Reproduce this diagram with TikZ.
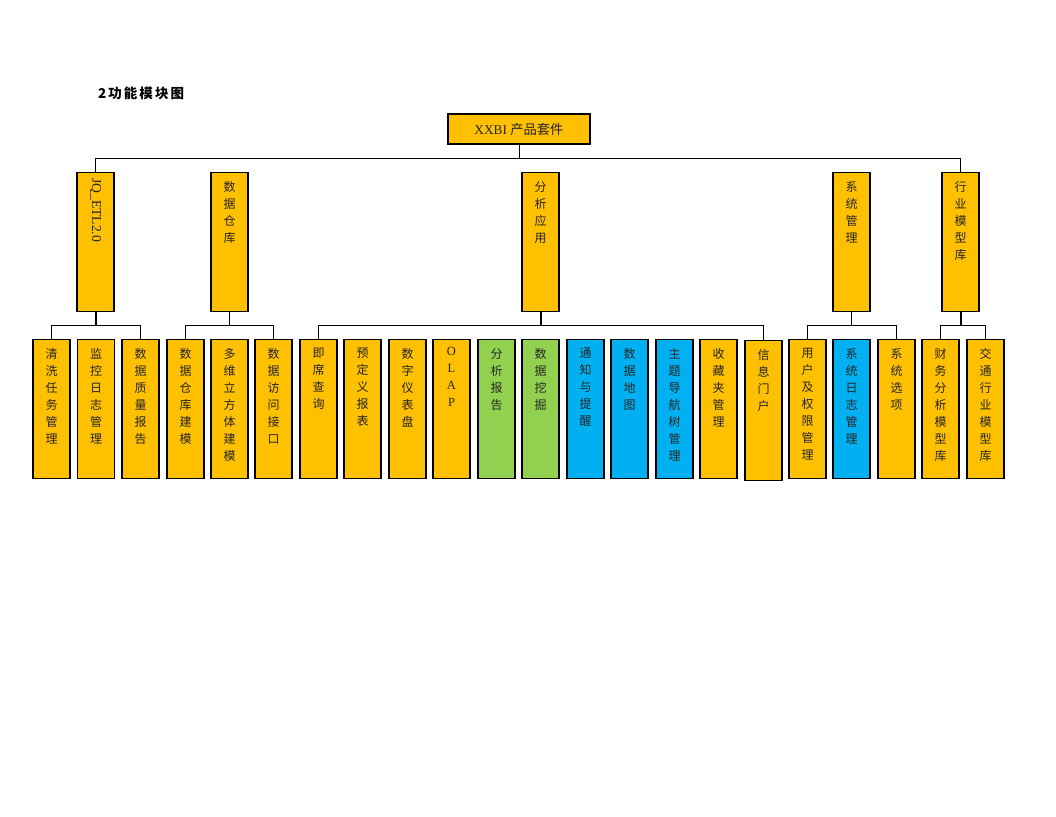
\documentclass[tikz,border=0pt]{standalone}
\usepackage{fontspec}
\setmainfont{Liberation Serif}
\newfontfamily\cjk{Noto Sans CJK SC}
\definecolor{org}{HTML}{FFC000}
\definecolor{grn}{HTML}{92D050}
\definecolor{blu}{HTML}{00B0F0}
\begin{document}
\begin{tikzpicture}[x=1pt,y=-1pt,
 box/.style={draw=black, line width=1.1pt, minimum width=37pt, minimum height=139pt, inner sep=0pt, anchor=north, fill=org},
 vtxt/.style={anchor=north, align=center, inner sep=0pt, yshift=-9pt, font=\cjk\fontsize{12}{17}\selectfont, text=black!85},
 ltxt/.style={anchor=north, align=center, inner sep=0pt, yshift=-8pt, font=\fontsize{12.5}{17}\selectfont, text=black!85},
 conn/.style={line width=0.9pt},
 tconn/.style={line width=2pt}]
\fill[white] (0,0) rectangle (1056,816);
\useasboundingbox (0,0) rectangle (1056,816);

\node[anchor=west, inner sep=0pt, font=\cjk\bfseries\addfontfeatures{LetterSpace=15}\fontsize{13.5}{13.5}\selectfont] (title) at (98,93) {2功能模块图};

\node[draw=black, line width=1.1pt, fill=org, minimum width=142pt, minimum height=30pt, inner sep=0pt, font=\fontsize{13.3}{13.3}\selectfont, text=black!85] (top) at (519,129) {XXBI {\cjk 产品套件}};

% level 1
\node[box] (jq) at (95.5,172) {};
\node[anchor=west, rotate=-90, inner sep=0pt, xshift=6pt, font=\fontsize{13.6}{13.6}\selectfont, text=black!85] (jqt) at (jq.north) {JQ\_ETL2.0};
\node[box] (sjck) at (229.5,172) {};
\node[vtxt] (sjckt) at (sjck.north) {数\\据\\仓\\库};
\node[box] (fxyy) at (540.5,172) {};
\node[vtxt] (fxyyt) at (fxyy.north) {分\\析\\应\\用};
\node[box] (xtgl) at (851.5,172) {};
\node[vtxt] (xtglt) at (xtgl.north) {系\\统\\管\\理};
\node[box] (hymx) at (960.5,172) {};
\node[vtxt] (hymxt) at (hymx.north) {行\\业\\模\\型\\库};

% level 2
\node[box] (c1) at (51.5,339) {};   \node[vtxt] at (c1.north) {清\\洗\\任\\务\\管\\理};
\node[box] (c2) at (96,339) {};     \node[vtxt] at (c2.north) {监\\控\\日\\志\\管\\理};
\node[box] (c3) at (140.5,339) {};  \node[vtxt] at (c3.north) {数\\据\\质\\量\\报\\告};
\node[box] (c4) at (185.5,339) {};  \node[vtxt] at (c4.north) {数\\据\\仓\\库\\建\\模};
\node[box] (c5) at (229.5,339) {};  \node[vtxt] at (c5.north) {多\\维\\立\\方\\体\\建\\模};
\node[box] (c6) at (273.5,339) {};  \node[vtxt] at (c6.north) {数\\据\\访\\问\\接\\口};
\node[box] (c7) at (318.5,339) {};  \node[vtxt] at (c7.north) {即\\席\\查\\询};
\node[box] (c8) at (362.5,339) {};  \node[vtxt] at (c8.north) {预\\定\\义\\报\\表};
\node[box] (c9) at (407.5,339) {};  \node[vtxt] at (c9.north) {数\\字\\仪\\表\\盘};
\node[box] (c10) at (451.5,339) {}; \node[ltxt] at (c10.north) {O\\L\\A\\P};
\node[box, fill=grn] (c11) at (496.5,339) {}; \node[vtxt] at (c11.north) {分\\析\\报\\告};
\node[box, fill=grn] (c12) at (540.5,339) {}; \node[vtxt] at (c12.north) {数\\据\\挖\\掘};
\node[box, fill=blu] (c13) at (585.5,339) {}; \node[vtxt] at (c13.north) {通\\知\\与\\提\\醒};
\node[box, fill=blu] (c14) at (629.5,339) {}; \node[vtxt] at (c14.north) {数\\据\\地\\图};
\node[box, fill=blu] (c15) at (674.5,339) {}; \node[vtxt] at (c15.north) {主\\题\\导\\航\\树\\管\\理};
\node[box] (c16) at (718.5,339) {}; \node[vtxt] at (c16.north) {收\\藏\\夹\\管\\理};
\node[box, minimum height=140pt] (c17) at (763.5,340) {}; \node[vtxt] at (c17.north) {信\\息\\门\\户};
\node[box] (c18) at (807.5,339) {}; \node[vtxt] at (c18.north) {用\\户\\及\\权\\限\\管\\理};
\node[box, fill=blu] (c19) at (851.5,339) {}; \node[vtxt] at (c19.north) {系\\统\\日\\志\\管\\理};
\node[box] (c20) at (896.5,339) {}; \node[vtxt] at (c20.north) {系\\统\\选\\项};
\node[box] (c21) at (940.5,339) {}; \node[vtxt] at (c21.north) {财\\务\\分\\析\\模\\型\\库};
\node[box] (c22) at (985.5,339) {}; \node[vtxt] at (c22.north) {交\\通\\行\\业\\模\\型\\库};

% connectors level 0 -> 1
\draw[conn] (top.south) -- ++(0,14);
\draw[conn] (jq.north) -- ++(0,-14) -| (hymx.north);

% connectors level 1 -> 2
\draw[tconn] (jq.south) -- ++(0,14);
\draw[conn] (c1.north) -- ++(0,-14) -| (c3.north);
\draw[conn] (sjck.south) -- ++(0,14);
\draw[conn] (c4.north) -- ++(0,-14) -| (c6.north);
\draw[tconn] (fxyy.south) -- ++(0,14);
\draw[conn] (c7.north) -- ++(0,-14) -| (c17.north);
\draw[conn] (xtgl.south) -- ++(0,14);
\draw[conn] (c18.north) -- ++(0,-14) -| (c20.north);
\draw[tconn] (hymx.south) -- ++(0,14);
\draw[conn] (c21.north) -- ++(0,-14) -| (c22.north);
\end{tikzpicture}
\end{document}
